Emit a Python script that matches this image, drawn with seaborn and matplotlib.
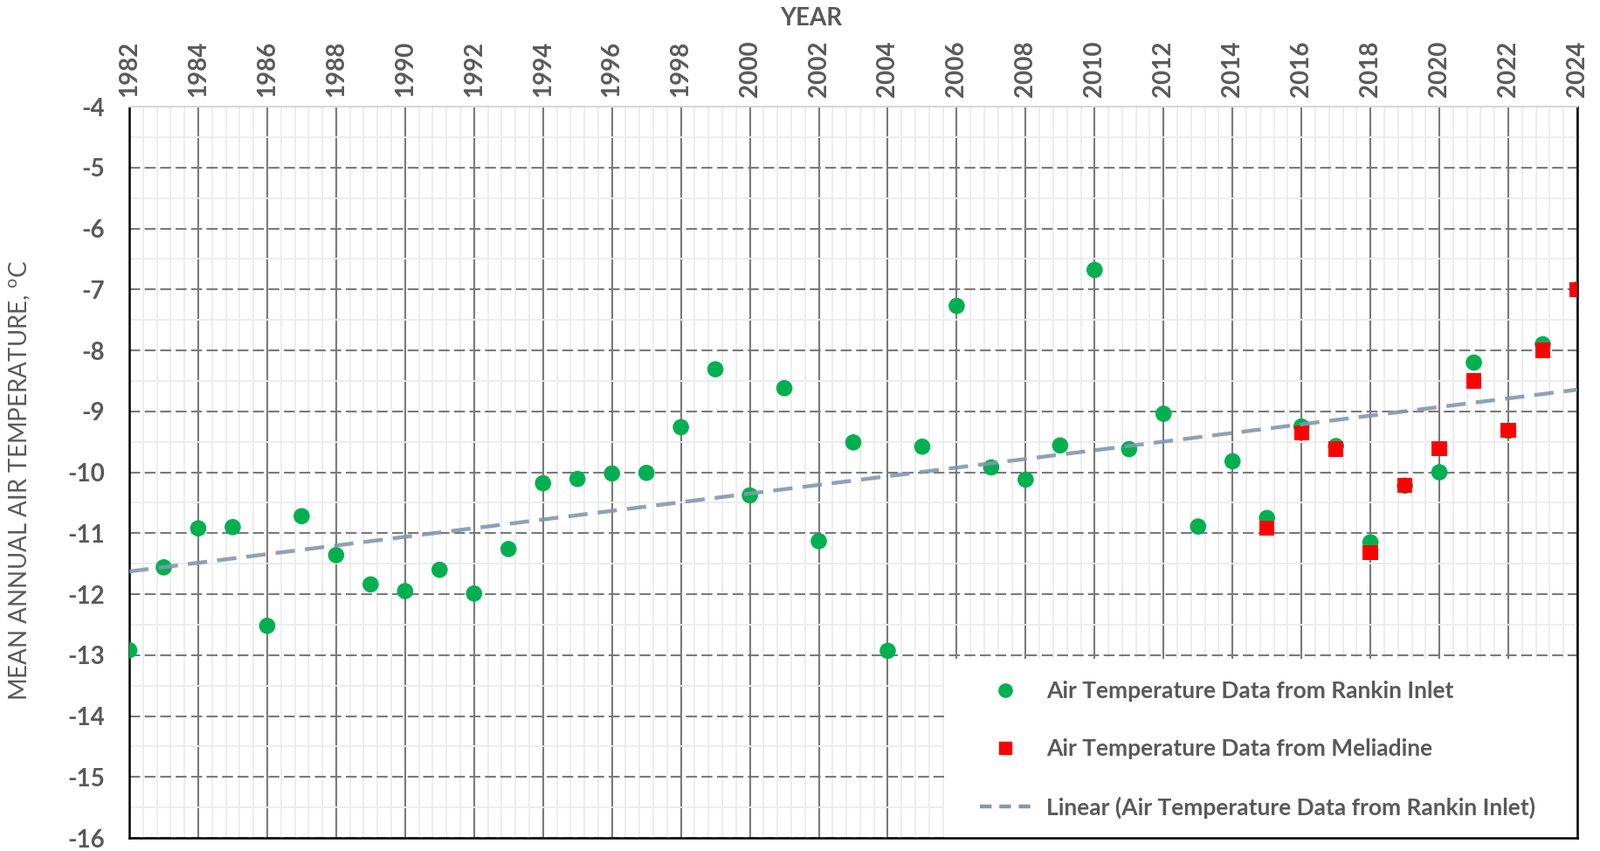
import numpy as np
import seaborn as sns
import matplotlib.pyplot as plt
from matplotlib.lines import Line2D
from matplotlib.patches import Rectangle
from matplotlib.ticker import FixedLocator, MultipleLocator


# values
years_rankin = list(range(1982, 2025))
temp_rankin = [-12.92, -11.56, -10.92, -10.90, -12.52, -10.72, -11.36, -11.84, -11.95, -11.60,
               -11.99, -11.26, -10.18, -10.11, -10.02, -10.01, -9.26, -8.31, -10.38, -8.62,
               -11.13, -9.51, -12.93, -9.58, -7.27, -9.92, -10.12, -9.56, -6.68, -9.62,
               -9.04, -10.89, -9.82, -10.75, -9.25, -9.57, -11.15, -10.22, -10.00, -8.20,
               -9.32, -7.90, -7.00]
years_meliadine = list(range(2015, 2025))
temp_meliadine = [-10.92, -9.35, -9.62, -11.32, -10.21, -9.61, -8.50, -9.31, -8.00, -7.00]

year_ticks = list(range(1982, 2025, 2))
temp_ticks = list(range(-16, -3))

label_rankin = 'Air Temperature Data from Rankin Inlet'
label_meliadine = 'Air Temperature Data from Meliadine'
label_trend = 'Linear (Air Temperature Data from Rankin Inlet)'

sns.set_style('white')
plt.rcParams['font.family'] = ['Lato', 'DejaVu Sans']
plt.rcParams['mathtext.fontset'] = 'custom'
plt.rcParams['mathtext.rm'] = 'Lato'
plt.rcParams['axes.unicode_minus'] = False
text_col = '#595959'
grid_col = '#7a7a7a'
green = '#00B050'
red = '#FF0000'
trend_col = '#8497B0'

fig = plt.figure(figsize=(18.32, 9.74), dpi=100)
ax = fig.add_axes([0.0808, 0.0154, 0.905, 0.8593])

sns.scatterplot(x=years_rankin, y=temp_rankin, ax=ax, color=green, marker='o',
                s=180, edgecolor='none', zorder=3)
sns.scatterplot(x=years_meliadine, y=temp_meliadine, ax=ax, color=red, marker='s',
                s=155, edgecolor='none', zorder=4)
sns.regplot(x=years_rankin, y=temp_rankin, ax=ax, scatter=False, ci=None,
            line_kws=dict(color=trend_col, lw=3.2, ls=(0, (5, 2.6)), zorder=5, alpha=0.9))

ax.set_xlim(1982, 2024)
ax.set_ylim(-16, -4)
ax.set_xticks(year_ticks)
ax.set_yticks(temp_ticks)
ax.xaxis.set_minor_locator(FixedLocator(np.arange(1982, 2024.01, 0.4)))
ax.yaxis.set_minor_locator(MultipleLocator(0.5))
ax.set_axisbelow(True)
ax.grid(which='minor', color='#ececec', lw=1.3)
ax.grid(which='major', axis='x', color=grid_col, lw=1.5)
ax.grid(which='major', axis='y', color=grid_col, lw=1.5, ls=(0, (6, 2.5)))

ax.xaxis.tick_top()
ax.tick_params(which='both', length=0)
ax.tick_params(axis='x', pad=8, labelrotation=90)
ax.tick_params(axis='y', pad=20)
for lab in ax.get_xticklabels() + ax.get_yticklabels():
    lab.set_fontsize(20)
    lab.set_fontweight('bold')
    lab.set_color(text_col)

for side in ['left', 'right', 'bottom']:
    ax.spines[side].set_color('black')
    ax.spines[side].set_linewidth(1.8)
ax.spines['top'].set_color('#d9d9d9')
ax.spines['top'].set_linewidth(1.5)

fig.text(0.507, 0.978, 'YEAR', ha='center', va='center', fontsize=20,
         fontweight='bold', color=text_col)
fig.text(0.0126, 0.436, r'MEAN ANNUAL AIR TEMPERATURE, $^{\mathrm{o}}$C', rotation=90,
         ha='center', va='center', fontsize=20, color=text_col)

# white legend panel in the lower right corner
ax.add_patch(Rectangle((0.5627, 0), 0.4373, 0.245, transform=ax.transAxes,
                       facecolor='white', edgecolor='none', zorder=2))

handles = [
    Line2D([], [], ls='none', marker='o', color=green, markersize=11),
    Line2D([], [], ls='none', marker='s', color=red, markersize=10),
    Line2D([], [], color=trend_col, lw=3.2, ls=(0, (3, 2))),
]
leg = ax.legend(handles, [label_rankin, label_meliadine, label_trend],
                loc='center left', bbox_to_anchor=(0.573, 0.121), frameon=False,
                fontsize=19, labelspacing=1.6, handlelength=2.2, handletextpad=0.7)
leg.set_zorder(6)
for t in leg.get_texts():
    t.set_color(text_col)
    t.set_fontweight('bold')

fig.savefig('out.png', dpi=100)
